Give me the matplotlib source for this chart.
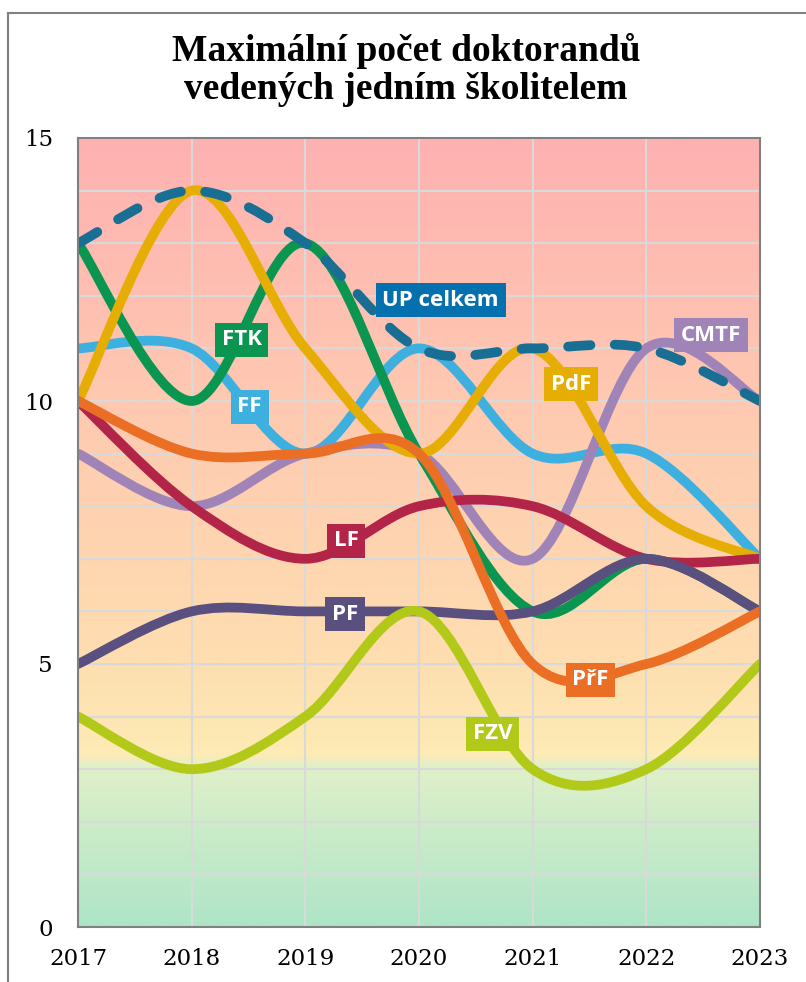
import numpy as np
import matplotlib
matplotlib.use("Agg")
import matplotlib.pyplot as plt
from matplotlib.path import Path
from matplotlib.patches import PathPatch
from matplotlib.colors import LinearSegmentedColormap
from matplotlib.lines import Line2D

years = [2017, 2018, 2019, 2020, 2021, 2022, 2023]

ff = [11, 11, 9, 11, 9, 9, 7]
ftk = [13, 10, 13, 9, 6, 7, 6]
cmtf = [9, 8, 9, 9, 7, 11, 10]
pdf = [10, 14, 11, 9, 11, 8, 7]
lf = [10, 8, 7, 8, 8, 7, 7]
pf = [5, 6, 6, 6, 6, 7, 6]
fzv = [4, 3, 4, 6, 3, 3, 5]
prf = [10, 9, 9, 9, 5, 5, 6]
up = [13, 14, 13, 11, 11, 11, 10]

# name, values, line colour, label colour, label position (data coords)
series = [
    ("FF", ff, "#3DB0E0", "#3DB0E0", (2018.51, 9.89)),
    ("FTK", ftk, "#0A9650", "#0A9650", (2018.44, 11.16)),
    ("CMTF", cmtf, "#A084B8", "#A084B8", (2022.57, 11.25)),
    ("PdF", pdf, "#E6AE05", "#E6AE05", (2021.34, 10.32)),
    ("LF", lf, "#B32548", "#B32548", (2019.36, 7.34)),
    ("PF", pf, "#595080", "#595080", (2019.35, 5.95)),
    ("FZV", fzv, "#B3C91A", "#B3C91A", (2020.65, 3.67)),
    ("PřF", prf, "#EB6E25", "#EB6E25", (2021.51, 4.70)),
    ("UP celkem", up, "#186E93", "#0570AE", (2020.19, 11.92)),
]

title = "Maximální počet doktorandů\nvedených jedním školitelem"


def smooth_path(xs, ys):
    # Excel-like smoothed line: cubic Bezier through the points
    pts = np.column_stack([xs, ys]).astype(float)
    n = len(pts)
    verts = [pts[0]]
    codes = [Path.MOVETO]
    for i in range(n - 1):
        p0 = pts[i - 1] if i > 0 else pts[i]
        p1 = pts[i]
        p2 = pts[i + 1]
        p3 = pts[i + 2] if i + 2 < n else pts[i + 1]
        verts += [p1 + (p2 - p0) / 6, p2 - (p3 - p1) / 6, p2]
        codes += [Path.CURVE4] * 3
    return Path(verts, codes)


W, H = 806, 982
fig = plt.figure(figsize=(W / 100, H / 100), dpi=100)
ax = fig.add_axes([78 / W, 1 - 927 / H, (760 - 78) / W, (927 - 138) / H])

# background gradient
stops = [(0.0, "#AEE5C7"), (3.0 / 15, "#DFF0CA"), (3.25 / 15, "#FDEBB5"),
         (5.0 / 15, "#FEDEB0"), (10.0 / 15, "#FEC9B1"), (1.0, "#FFB1B1")]
cmap = LinearSegmentedColormap.from_list("bg", stops)
grad = np.linspace(0, 1, 400).reshape(-1, 1)
ax.imshow(grad, cmap=cmap, origin="lower", aspect="auto",
          extent=[2017, 2023, 0, 15], zorder=0)

ax.set_xlim(2017, 2023)
ax.set_ylim(0, 15)
ax.set_xticks(years)
ax.set_yticks([0, 5, 10, 15])
ax.set_yticks(range(1, 15), minor=True)
ax.grid(True, which="both", color="#D9D9D9", lw=1.5, zorder=1)
ax.set_axisbelow(True)
ax.tick_params(which="both", length=0, labelsize=16.5,
               labelfontfamily="DejaVu Serif")
ax.tick_params(axis="y", pad=18)
ax.tick_params(axis="x", pad=15)
for s in ax.spines.values():
    s.set_color("#808080")
    s.set_linewidth(1.5)
    s.set_zorder(5)

for name, vals, col, lcol, pos in series:
    patch = PathPatch(smooth_path(years, vals), fill=False, edgecolor=col,
                      lw=7, capstyle="round", joinstyle="round", zorder=3)
    if name == "UP celkem":
        patch.set_linestyle((0, (2.3, 2.5)))
    ax.add_patch(patch)
    ax.text(pos[0], pos[1], name, ha="center", va="center", color="white",
            fontsize=16, fontweight="bold", family="Open Sans", zorder=4,
            bbox=dict(boxstyle="square,pad=0.3", fc=lcol, ec="none"))

fig.text(406 / W, 1 - 70 / H, title, ha="center", va="center",
         fontsize=27, fontweight="bold", family="Liberation Serif",
         linespacing=1.1)

# outer frame
fig.add_artist(Line2D([8 / W, 1], [1 - 12.5 / H, 1 - 12.5 / H],
                      color="#808080", lw=1.5, transform=fig.transFigure))
fig.add_artist(Line2D([8 / W, 8 / W], [0, 1 - 12.5 / H],
                      color="#808080", lw=1.5, transform=fig.transFigure))

fig.savefig("out.png", dpi=100)
